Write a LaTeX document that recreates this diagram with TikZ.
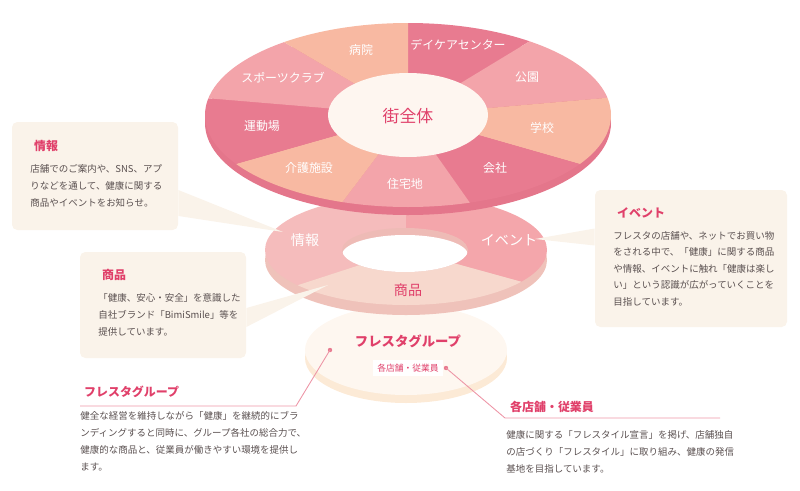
\documentclass[tikz,border=0pt]{standalone}
\usepackage{fontspec}
\setmainfont{Noto Sans CJK JP}
\usetikzlibrary{positioning}
\definecolor{pkdark}{HTML}{E87B90}
\definecolor{pkmid}{HTML}{F3A4AA}
\definecolor{pkpeach}{HTML}{F8B9A2}
\definecolor{pkside}{HTML}{E4768B}
\definecolor{ringA}{HTML}{F5BCBC}
\definecolor{ringB}{HTML}{F4A6AB}
\definecolor{ringC}{HTML}{F7D8CD}
\definecolor{ringside}{HTML}{EFC2BA}
\definecolor{basetop}{HTML}{FEF7F0}
\definecolor{baseside}{HTML}{FCEAD6}
\definecolor{boxfill}{HTML}{FAF3EA}
\definecolor{accent}{HTML}{E0406A}
\definecolor{bodytext}{HTML}{5A5050}
\definecolor{centerfill}{HTML}{FEF6F0}
\tikzset{
    seglabel/.style={
        text=white,
        font=\fontsize{6.8}{8}\selectfont
    },
    ringlabel/.style={
        font=\fontsize{8}{9}\selectfont
    },
    calloutbox/.style={
        rectangle,
        fill=boxfill,
        rounded corners=3pt,
        inner sep=0pt
    },
    boxtitle/.style={
        anchor=west,
        text=accent,
        font=\bfseries\fontsize{6.8}{8}\selectfont
    },
    boxbody/.style={
        anchor=north west,
        align=left,
        text=bodytext,
        font=\fontsize{5.4}{9.6}\selectfont,
        inner sep=0pt
    },
    leader/.style={
        draw=pkdark!80,
        line width=0.5pt
    }
}
\begin{document}
\begin{tikzpicture}[x=0.02cm,y=-0.02cm]
\useasboundingbox (0,0) rectangle (800,490);

% Bottom disk
\fill[baseside] (406,358) ellipse [x radius=101, y radius=45];
\fill[basetop] (406,350) ellipse [x radius=101, y radius=45];

% Middle ring
\fill[ringside] (406,260) ellipse [x radius=141, y radius=55];
\begin{scope}
    \clip (406,250) ellipse [x radius=141, y radius=55];
    \fill[ringA] (406,250) -- (160,330) -- (160,100) -- (406,100) -- cycle;
    \fill[ringB] (406,250) -- (406,100) -- (660,100) -- (660,320) -- cycle;
    \fill[ringC] (406,250) -- (160,330) -- (406,400) -- (660,320) -- cycle;
\end{scope}
\begin{scope}
    \clip (405,250) ellipse [x radius=63, y radius=22];
    \fill[ringside!90!pkdark] (405,250) ellipse [x radius=63, y radius=22];
    \fill[white] (405,255) ellipse [x radius=63, y radius=20];
\end{scope}

% Top disk
\fill[pkside] (408,123) ellipse [x radius=203, y radius=92];
\begin{scope}
    \clip (408,115) ellipse [x radius=203, y radius=92];
    \fill[pkdark] (408,115) -- (408,-135) -- (725.5,-77.5) -- cycle;
    \fill[pkmid] (408,115) -- (725.5,-77.5) -- (900.5,72.5) -- cycle;
    \fill[pkpeach] (408,115) -- (900.5,72.5) -- (845.5,240) -- cycle;
    \fill[pkdark] (408,115) -- (845.5,240) -- (575.5,352.5) -- cycle;
    \fill[pkmid] (408,115) -- (575.5,352.5) -- (233,347.5) -- cycle;
    \fill[pkpeach] (408,115) -- (233,347.5) -- (-32,240) -- cycle;
    \fill[pkdark] (408,115) -- (-32,240) -- (-99.5,72.5) -- cycle;
    \fill[pkmid] (408,115) -- (-99.5,72.5) -- (80.5,-77.5) -- cycle;
    \fill[pkpeach] (408,115) -- (80.5,-77.5) -- (408,-135) -- cycle;
\end{scope}
\fill[centerfill] (408,115) ellipse [x radius=80, y radius=42];

% Segment labels
\node (town) [text=accent, font=\fontsize{9.6}{11}\selectfont] at (408,116) {街全体};
\node (hospital) [seglabel] at (361,50) {病院};
\node (daycare) [seglabel] at (458,45) {デイケアセンター};
\node (sports) [seglabel] at (283,78) {スポーツクラブ};
\node (park) [seglabel] at (527,77) {公園};
\node (ground) [seglabel] at (262,126) {運動場};
\node (school) [seglabel] at (542,128) {学校};
\node (care) [seglabel] at (309,168) {介護施設};
\node (company) [seglabel] at (495,168) {会社};
\node (housing) [seglabel] at (405,184) {住宅地};

% Ring labels
\node (ringinfo) [ringlabel, text=white] at (305,240) {情報};
\node (ringevent) [ringlabel, text=white] at (509,240) {イベント};
\node (ringgoods) [ringlabel, text=accent] at (408,290) {商品};

% Base labels
\node (group) [text=accent, font=\bfseries\fontsize{7.6}{9}\selectfont] at (408,341) {フレスタグループ};
\node (staff) [fill=white, text=accent, inner sep=2.5pt, font=\fontsize{5}{6}\selectfont] at (408,368) {各店舗・従業員};
\coordinate (groupdot) at (330,350);
\coordinate (staffdot) at (446,368);
\fill[pkdark] (groupdot) circle (2.2);
\fill[pkdark] (staffdot) circle (2.2);

% Callout boxes
\node (infobox) [calloutbox, minimum width=166*0.02cm, minimum height=108*0.02cm] at (95,176) {};
\node (goodsbox) [calloutbox, minimum width=166*0.02cm, minimum height=106*0.02cm] at (163,305) {};
\node (eventbox) [calloutbox, minimum width=192*0.02cm, minimum height=137*0.02cm] at (691,258.5) {};
\fill[boxfill] ([yshift=-0.28cm]infobox.east) -- (283,232) -- ([yshift=-0.8cm]infobox.east) -- cycle;
\fill[boxfill] ([yshift=-0.06cm]goodsbox.east) -- (328,285) -- ([yshift=-0.44cm]goodsbox.east) -- cycle;
\fill[boxfill] ([yshift=0.6cm]eventbox.west) -- (535,239) -- ([yshift=0.26cm]eventbox.west) -- cycle;

\node (infotitle) [boxtitle] at (28,146) {情報};
\node (infotext) [boxbody] at (30,164) {店舗でのご案内や、SNS、アプ\\りなどを通して、健康に関する\\商品やイベントをお知らせ。};
\node (goodstitle) [boxtitle] at (96,275) {商品};
\node (goodstext) [boxbody] at (98,293) {「健康、安心・安全」を意識した\\自社ブランド「BimiSmile」等を\\提供しています。};
\node (eventtitle) [boxtitle] at (611,213) {イベント};
\node (eventtext) [boxbody, font=\fontsize{5.4}{9.4}\selectfont] at (613,231) {フレスタの店舗や、ネットでお買い物\\をされる中で、「健康」に関する商品\\や情報、イベントに触れ「健康は楽し\\い」という認識が広がっていくことを\\目指しています。};

% Lower texts
\node (grouptitle) [boxtitle] at (78,392) {フレスタグループ};
\node (grouptext) [boxbody] at (80,411) {健全な経営を維持しながら「健康」を継続的にブラ\\ンディングすると同時に、グループ各社の総合力で、\\健康的な商品と、従業員が働きやすい環境を提供し\\ます。};
\node (stafftitle) [boxtitle] at (504,407) {各店舗・従業員};
\node (stafftext) [boxbody] at (506,430) {健康に関する「フレスタイル宣言」を掲げ、店舗独自\\の店づくり「フレスタイル」に取り組み、健康の発信\\基地を目指しています。};

% Leaders
\coordinate (groupknee) at (296,406);
\coordinate (staffknee) at (505,418);
\draw[leader] (80,406) -- (groupknee) -- (groupdot);
\draw[leader] (staffdot) -- (staffknee) -- (720,418);

\end{tikzpicture}
\end{document}
